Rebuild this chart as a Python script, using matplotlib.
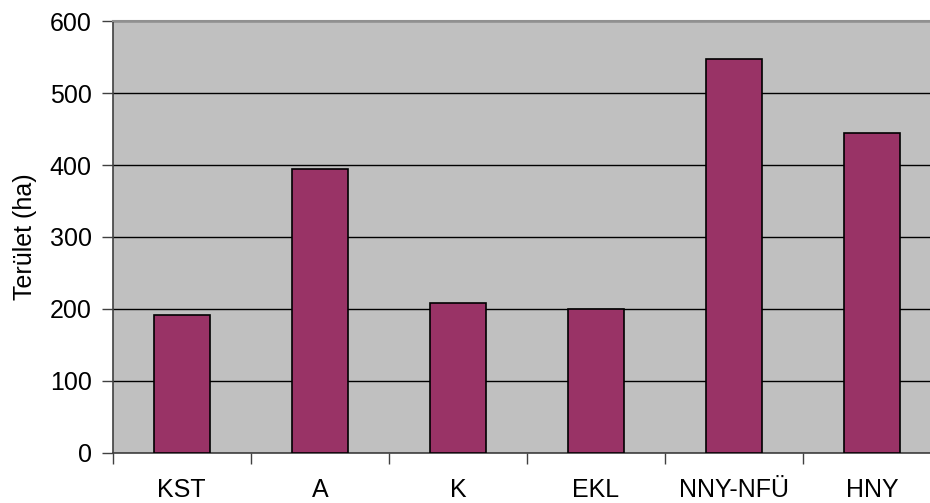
import matplotlib.pyplot as plt
import numpy as np

# adatok
categories = ['KST', 'A', 'K', 'EKL', 'NNY-NFÜ', 'HNY']
terulet = [191, 394, 208, 200, 547, 445]
y_ticks = [0, 100, 200, 300, 400, 500, 600]

plt.rcParams['font.family'] = ['Liberation Sans', 'DejaVu Sans']

fig = plt.figure(figsize=(9.3, 5.03), dpi=100)
# a rajzterület jobbra kilóg a képből, mint az eredetin
ax = fig.add_axes([112.7 / 930, 1 - 452.7 / 503, 828.6 / 930, 431.4 / 503])
ax.set_facecolor('#C0C0C0')

x = np.arange(len(categories))
ax.bar(x, terulet, width=0.405, color='#993366', edgecolor='black', linewidth=1.2, zorder=3)

ax.set_xlim(-0.5, len(categories) - 0.5)
ax.set_ylim(0, 600)
ax.set_yticks(y_ticks)
ax.yaxis.grid(True, color='black', linewidth=1, zorder=1)
ax.set_axisbelow(True)

# kategória-határok a tengelyen
ax.set_xticks(np.arange(len(categories) + 1) - 0.5, minor=False)
ax.set_xticklabels([])
ax.set_xticks(x, minor=True)
ax.set_xticklabels(categories, minor=True, fontsize=18)
ax.tick_params(axis='x', which='major', direction='out', length=8, color='#404040', width=1)
ax.tick_params(axis='x', which='minor', length=0, pad=18.5)
ax.tick_params(axis='y', direction='out', length=8, color='#404040', width=1, labelsize=18, pad=7)

for side in ['left', 'bottom']:
    ax.spines[side].set_color('#404040')
    ax.spines[side].set_linewidth(1.2)
ax.spines['top'].set_color('#909090')
ax.spines['top'].set_linewidth(1.5)
ax.spines['right'].set_visible(False)

ax.set_ylabel('Terület (ha)', fontsize=18, labelpad=9.5)

plt.savefig('out.png', dpi=100)
plt.close()
